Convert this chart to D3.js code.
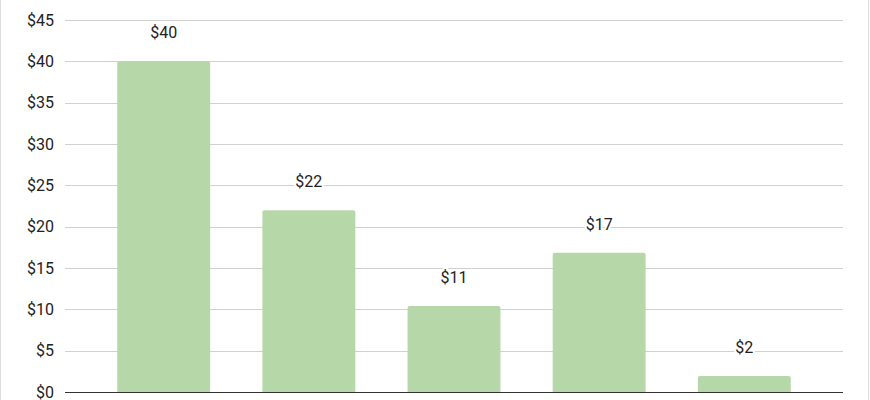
<!DOCTYPE html>
<html>
<head>
<meta charset="utf-8">
<script src="https://cdn.jsdelivr.net/npm/d3@7"></script>
<style>
  html, body { margin: 0; padding: 0; background: #fff; }
  svg { display: block; font-family: Roboto, "Noto Sans", Arial, sans-serif; }
</style>
</head>
<body>
<svg id="chart" width="870" height="400"></svg>
<script>
const categories = ["A", "B", "C", "D", "E"];
const values = [40, 22, 10.4, 16.85, 1.95];
const valueLabels = ["$40", "$22", "$11", "$17", "$2"];
const yTicks = [0, 5, 10, 15, 20, 25, 30, 35, 40, 45];

const W = 870, H = 400;
const margin = { left: 65, right: 27, top: 20, bottom: 8 };
const svg = d3.select("#chart");

// frame edges
svg.append("line").attr("x1", 0.5).attr("x2", 0.5).attr("y1", 0).attr("y2", H)
  .attr("stroke", "#dcdcdc").attr("stroke-width", 1);
svg.append("line").attr("x1", 868.5).attr("x2", 868.5).attr("y1", 0).attr("y2", H)
  .attr("stroke", "#dcdcdc").attr("stroke-width", 1);

const x = d3.scaleBand()
  .domain(categories)
  .range([margin.left, W - margin.right])
  .paddingInner(0.36)
  .paddingOuter(0.36);

const y = d3.scaleLinear()
  .domain([0, 45])
  .range([H - margin.bottom, margin.top]);

// grid lines
svg.append("g").selectAll("line")
  .data(yTicks.filter(d => d !== 0))
  .join("line")
  .attr("x1", margin.left).attr("x2", W - margin.right)
  .attr("y1", d => Math.round(y(d)) + 0.5).attr("y2", d => Math.round(y(d)) + 0.5)
  .attr("stroke", "#d0d0d0").attr("stroke-width", 1);

// y axis labels
const yAxis = d3.axisLeft(y).tickValues(yTicks).tickSize(0).tickPadding(11)
  .tickFormat(d => "$" + d);
const gy = svg.append("g").attr("transform", `translate(${margin.left},0)`).call(yAxis);
gy.select(".domain").remove();
gy.selectAll("text").attr("font-size", 16).attr("fill", "#222")
  .attr("font-family", "Roboto, 'Noto Sans', Arial, sans-serif");

// bars with slightly rounded top corners
const r = 2;
svg.append("g").selectAll("path")
  .data(values)
  .join("path")
  .attr("fill", "#b6d7a8")
  .attr("d", (d, i) => {
    const x0 = x(categories[i]), w = x.bandwidth();
    const yt = y(d), yb = y(0);
    return `M${x0},${yb} L${x0},${yt + r} Q${x0},${yt} ${x0 + r},${yt} L${x0 + w - r},${yt} Q${x0 + w},${yt} ${x0 + w},${yt + r} L${x0 + w},${yb} Z`;
  });

// baseline
svg.append("line")
  .attr("x1", margin.left).attr("x2", W - margin.right)
  .attr("y1", Math.round(y(0)) + 0.5).attr("y2", Math.round(y(0)) + 0.5)
  .attr("stroke", "#333").attr("stroke-width", 1);

// value labels
svg.append("g").selectAll("text")
  .data(values)
  .join("text")
  .attr("x", (d, i) => x(categories[i]) + x.bandwidth() / 2)
  .attr("y", d => y(d) - 23)
  .attr("text-anchor", "middle")
  .attr("font-size", 16)
  .attr("fill", "#222")
  .attr("stroke", "#fff").attr("stroke-width", 4).attr("paint-order", "stroke")
  .text((d, i) => valueLabels[i]);
</script>
</body>
</html>
